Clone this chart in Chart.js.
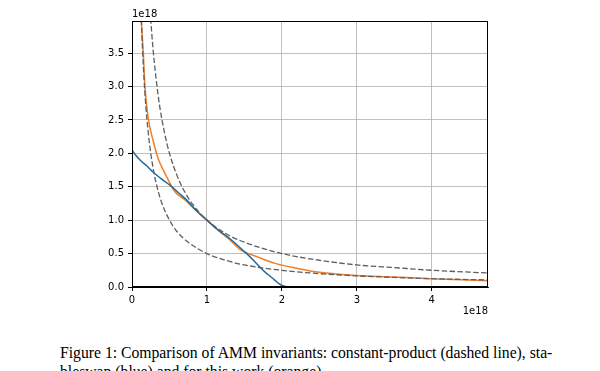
<!DOCTYPE html>
<html>
<head>
<meta charset="utf-8">
<script src="https://cdn.jsdelivr.net/npm/chart.js@4.4.1/dist/chart.umd.min.js"></script>
<style>
  body { margin: 0; background: #fff; width: 600px; height: 371px; overflow: hidden; position: relative; }
  #wrap { position: absolute; left: 0; top: 0; width: 600px; height: 330px; }
  #caption {
    position: absolute; left: 60px; top: 343px; width: 540px;
    font-family: "Liberation Serif", "DejaVu Serif", serif; font-size: 15.7px;
    line-height: 19px; color: #000; white-space: nowrap;
  }
</style>
</head>
<body>
<div id="wrap"><canvas id="chart" width="600" height="330"></canvas></div>
<div id="caption">Figure 1: Comparison of AMM invariants: constant-product (dashed line), sta-<br>bleswap (blue) and for this work (orange).</div>
<script>
// values in units of 1e18
const stableX = [0, 0.05, 0.107, 0.2, 0.28, 0.4, 0.51, 0.62, 0.73, 0.86, 1.0, 1.14, 1.3, 1.41, 1.52, 1.62, 1.72, 1.81, 1.9, 1.96, 2.02, 2.08, 2.2, 2.6, 3.5, 4.75];
const stableY = [2.05, 1.97, 1.90, 1.81, 1.72, 1.61, 1.52, 1.41, 1.30, 1.14, 1.0, 0.86, 0.73, 0.62, 0.51, 0.40, 0.28, 0.19, 0.107, 0.05, 0.015, 0.004, 0.002, 0.002, 0.002, 0.002];

const workX = [0.094, 0.125, 0.151, 0.173, 0.22, 0.28, 0.35, 0.44, 0.57, 0.70, 0.84, 1.0, 1.16, 1.31, 1.43, 1.70, 1.92, 2.20, 2.50, 2.99, 3.50, 3.97, 4.75];
const workY = [4.75, 3.97, 3.50, 2.99, 2.50, 2.20, 1.92, 1.70, 1.43, 1.31, 1.16, 1.0, 0.84, 0.70, 0.57, 0.44, 0.35, 0.28, 0.22, 0.173, 0.151, 0.125, 0.094];

const cpHighX = [0.235, 0.25, 0.28, 0.32, 0.37, 0.43, 0.5, 0.6, 0.7, 0.8, 1.0, 1.25, 1.5, 2.0, 2.5, 3.0, 3.5, 4.0, 4.75];
const cpHighY = [4.26, 4.0, 3.57, 3.13, 2.70, 2.33, 2.0, 1.67, 1.43, 1.25, 1.0, 0.8, 0.67, 0.5, 0.4, 0.33, 0.29, 0.25, 0.21];

const cpLowX = [0.118, 0.125, 0.14, 0.16, 0.185, 0.215, 0.25, 0.3, 0.35, 0.4, 0.5, 0.6, 0.75, 1.0, 1.25, 1.5, 2.0, 2.5, 3.0, 3.5, 4.0, 4.75];
const cpLowY = [4.24, 4.0, 3.57, 3.13, 2.70, 2.33, 2.0, 1.67, 1.43, 1.25, 1.0, 0.83, 0.67, 0.5, 0.4, 0.33, 0.25, 0.2, 0.167, 0.143, 0.125, 0.105];

const xTicks = [0, 1, 2, 3, 4];
const yTicks = [0, 0.5, 1.0, 1.5, 2.0, 2.5, 3.0, 3.5];

const pts = (xs, ys) => xs.map((x, i) => ({ x: x, y: ys[i] }));

const font = { family: 'DejaVu Sans', size: 10 };

const framePlugin = {
  id: 'frame',
  afterDraw(chart) {
    const { ctx, chartArea: a } = chart;
    ctx.save();
    ctx.strokeStyle = '#000';
    ctx.lineWidth = 1;
    ctx.strokeRect(a.left + 0.5, a.top + 0.5, a.right - a.left - 1, a.bottom - a.top - 1);
    ctx.fillStyle = '#000';
    ctx.font = '10px "DejaVu Sans"';
    ctx.textBaseline = 'bottom';
    ctx.textAlign = 'left';
    ctx.fillText('1e18', a.left, a.top - 2);
    ctx.textBaseline = 'middle';
    ctx.textAlign = 'right';
    ctx.fillText('1e18', a.right, a.bottom + 24);
    ctx.restore();
  }
};

const dashedStyle = {
  borderColor: '#5e5e5e',
  borderWidth: 1.3,
  borderDash: [5.5, 2.4]
};

new Chart(document.getElementById('chart'), {
  type: 'line',
  data: {
    datasets: [
      { data: pts(cpHighX, cpHighY), ...dashedStyle },
      { data: pts(cpLowX, cpLowY), ...dashedStyle },
      { data: pts(stableX, stableY), borderColor: '#1f6b9e', borderWidth: 1.5 },
      { data: pts(workX, workY), borderColor: '#f07f2a', borderWidth: 1.5 }
    ]
  },
  options: {
    responsive: false,
    animation: false,
    events: [],
    clip: 0,
    elements: { point: { radius: 0 }, line: { cubicInterpolationMode: 'monotone' } },
    layout: { padding: { left: 92, right: 112, top: 21, bottom: 18 } },
    plugins: { legend: { display: false }, tooltip: { enabled: false } },
    scales: {
      x: {
        type: 'linear',
        min: 0,
        max: 4.75,
        afterFit: s => { s.height = 25; },
        afterBuildTicks: s => { s.ticks = xTicks.map(v => ({ value: v })); },
        ticks: { font, color: '#000', padding: 3, includeBounds: false, maxRotation: 0, callback: v => String(v) },
        grid: { color: '#b0b0b0', lineWidth: 0.8, tickColor: '#000', tickLength: 4, tickWidth: 1 },
        border: { display: true, color: '#000', width: 1 }
      },
      y: {
        type: 'linear',
        min: 0,
        max: 3.98,
        afterFit: s => { s.width = 40; },
        afterBuildTicks: s => { s.ticks = yTicks.map(v => ({ value: v })); },
        ticks: { font, color: '#000', padding: 4, includeBounds: false, callback: v => v.toFixed(1) },
        grid: { color: '#b0b0b0', lineWidth: 0.8, tickColor: '#000', tickLength: 4, tickWidth: 1 },
        border: { display: true, color: '#000', width: 1 }
      }
    }
  },
  plugins: [framePlugin]
});
</script>
</body>
</html>
